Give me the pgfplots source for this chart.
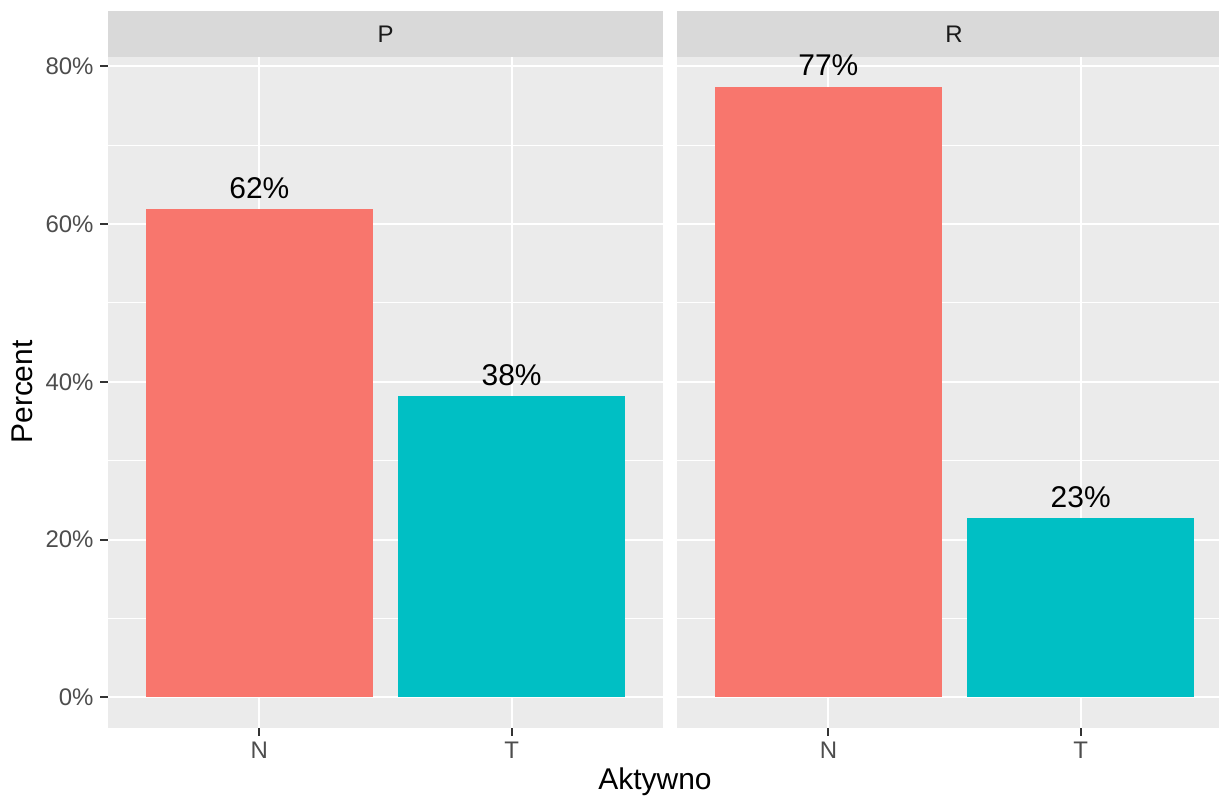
\documentclass[border=0pt]{standalone}
\usepackage{pgfplots}
\pgfplotsset{compat=1.18}
\usepackage{fontspec}
\setmainfont{Liberation Sans}
\definecolor{ggred}{HTML}{F8766D}
\definecolor{ggteal}{HTML}{00BFC4}
\definecolor{ggbg}{HTML}{EBEBEB}
\definecolor{ggstrip}{HTML}{D9D9D9}
\definecolor{ggtick}{HTML}{4D4D4D}
\definecolor{ggtickline}{HTML}{333333}
\definecolor{ggstriptext}{HTML}{1A1A1A}
\pgfplotsset{
  ggpanel/.style={
    scale only axis, height=246.26pt,
    ymin=-3.87, ymax=81.17, xmin=0.4,
    axis x line*=bottom, axis y line*=left,
    axis line style={draw=none},
    axis background/.style={fill=ggbg},
    xtick={1,2}, xticklabels={N,T},
    ytick={0,20,40,60,80}, minor ytick={10,30,50,70},
    xmajorgrids, ymajorgrids, yminorgrids,
    major grid style={white, line width=0.75pt},
    minor grid style={white, line width=0.4pt},
    tick align=outside,
    major tick length=2.9pt, minor tick length=0pt,
    major tick style={ggtickline, line width=0.75pt},
    ticklabel style={font=\fontsize{8.8}{10}\selectfont, text=ggtick},
    xticklabel style={anchor=north, inner sep=0pt, yshift=-2.2pt},
    yticklabel style={anchor=east, inner sep=0pt, xshift=-2.2pt},
    ybar, bar width=0.9, bar shift=0pt,
    every axis plot/.append style={draw=none},
    nodes near coords={\pgfmathprintnumber[fixed,precision=0]{\pgfplotspointmeta}\%},
    nodes near coords style={font=\fontsize{11}{13}\selectfont, text=black, anchor=south, inner sep=0pt, yshift=3.7pt},
    /pgf/number format/assume math mode=true,
    clip=false,
  }
}
\begin{document}
\begin{tikzpicture}
\path[use as bounding box] (0,0) rectangle (447.37pt,-293.23pt);
% Panel P
\begin{axis}[ggpanel, at={(39.64pt,-20.92pt)}, anchor=north west,
  width=203.69pt, xmax=2.6,
  yticklabels={0\%,20\%,40\%,60\%,80\%}]
\addplot[fill=ggred] coordinates {(1,61.85)};
\addplot[fill=ggteal] coordinates {(2,38.15)};
\fill[ggstrip] (rel axis cs:0,1) rectangle ([yshift=16.88pt]rel axis cs:1,1);
\node[font=\fontsize{8.8}{10}\selectfont, text=ggstriptext] at ([yshift=8.44pt]rel axis cs:0.5,1) {P};
\end{axis}
% Panel R
\begin{axis}[ggpanel, at={(248.46pt,-20.92pt)}, anchor=north west,
  width=198.91pt, xmax=2.548,
  yticklabels={}, ytick style={draw=none}]
\addplot[fill=ggred] coordinates {(1,77.42)};
\addplot[fill=ggteal] coordinates {(2,22.7)};
\fill[ggstrip] (rel axis cs:0,1) rectangle ([yshift=16.88pt]rel axis cs:1,1);
\node[font=\fontsize{8.8}{10}\selectfont, text=ggstriptext] at ([yshift=8.44pt]rel axis cs:{(954-677)/542},1) {R};
\end{axis}
\node[font=\fontsize{11}{13}\selectfont, rotate=90] at (8.07pt,-143.86pt) {Percent};
\node[font=\fontsize{11}{13}\selectfont] at (240.39pt,-287.0pt) {Aktywno};
\end{tikzpicture}
\end{document}
